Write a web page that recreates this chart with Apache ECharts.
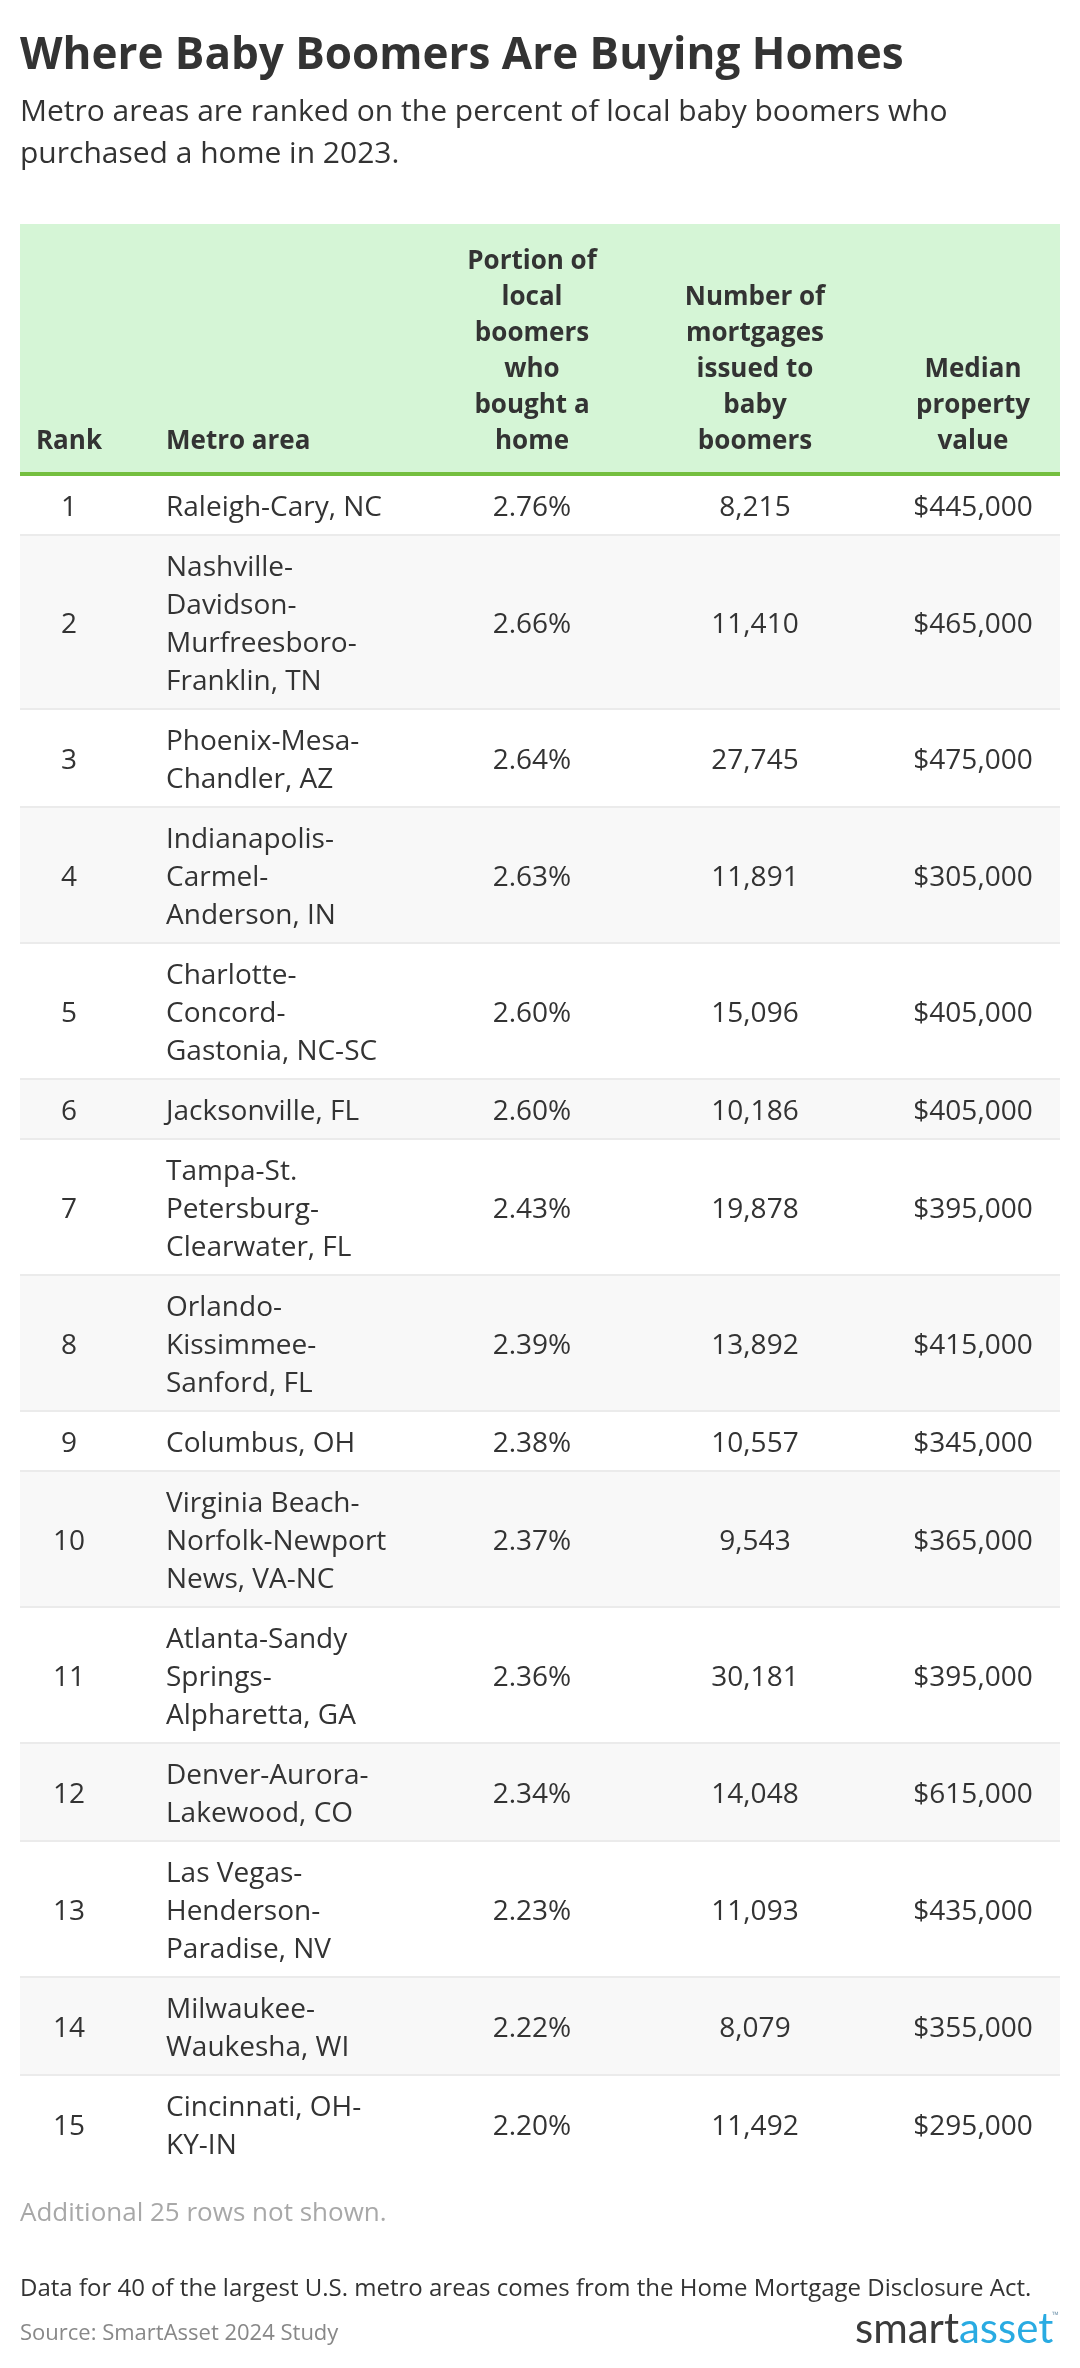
<!DOCTYPE html>
<html>
<head>
<meta charset="utf-8">
<style>
  html, body { margin: 0; padding: 0; background: #fff; }
  #chart { width: 1080px; height: 2368px; }
</style>
<script src="https://cdn.jsdelivr.net/npm/echarts@6/dist/echarts.min.js"></script>
</head>
<body>
<div id="chart"></div>
<script>
const headers = ['Rank', 'Metro area', 'Portion of\nlocal\nboomers\nwho\nbought a\nhome', 'Number of\nmortgages\nissued to\nbaby\nboomers', 'Median\nproperty\nvalue']
const ranks = [1, 2, 3, 4, 5, 6, 7, 8, 9, 10, 11, 12, 13, 14, 15]
const metros = [
  'Raleigh-Cary, NC',
  'Nashville-\nDavidson-\nMurfreesboro-\nFranklin, TN',
  'Phoenix-Mesa-\nChandler, AZ',
  'Indianapolis-\nCarmel-\nAnderson, IN',
  'Charlotte-\nConcord-\nGastonia, NC-SC',
  'Jacksonville, FL',
  'Tampa-St.\nPetersburg-\nClearwater, FL',
  'Orlando-\nKissimmee-\nSanford, FL',
  'Columbus, OH',
  'Virginia Beach-\nNorfolk-Newport\nNews, VA-NC',
  'Atlanta-Sandy\nSprings-\nAlpharetta, GA',
  'Denver-Aurora-\nLakewood, CO',
  'Las Vegas-\nHenderson-\nParadise, NV',
  'Milwaukee-\nWaukesha, WI',
  'Cincinnati, OH-\nKY-IN',
]
const portions = [2.76, 2.66, 2.64, 2.63, 2.6, 2.6, 2.43, 2.39, 2.38, 2.37, 2.36, 2.34, 2.23, 2.22, 2.2]
const mortgages = [8215, 11410, 27745, 11891, 15096, 10186, 19878, 13892, 10557, 9543, 30181, 14048, 11093, 8079, 11492]
const propertyValues = [445000, 465000, 475000, 305000, 405000, 405000, 395000, 415000, 345000, 365000, 395000, 615000, 435000, 355000, 295000]

const FONT = '"Open Sans", sans-serif'
const TEXT = '#333333'
const TABLE_LEFT = 20
const TABLE_RIGHT = 1060
const HEAD_TOP = 224
const HEAD_BOTTOM = 472
const RULE = 4
const LINE = 38
const HEAD_LINE = 36
const PAD = 22
// column anchors: rank, metro, portion, mortgages, value
const colX = [69, 166, 532, 755, 973]
const colAlign = ['center', 'left', 'center', 'center', 'center']

const fmt = (n) => n.toLocaleString('en-US')

// row tops follow from how many lines the metro name wraps to
const rowTops = []
let nextTop = HEAD_BOTTOM + RULE
metros.forEach((m) => {
  rowTops.push(nextTop)
  nextTop += PAD + LINE * m.split('\n').length
})

const cell = (x, y, text, align, font, lineHeight) => ({
  type: 'text',
  silent: true,
  style: { x, y, text, font, lineHeight, fill: TEXT, align, verticalAlign: 'middle' },
})

function renderRow(params) {
  const i = params.dataIndex
  const y = rowTops[i]
  const h = PAD + LINE * metros[i].split('\n').length
  const mid = y + (h - 2) / 2 + 3
  const children = []
  if (i % 2 === 1) {
    children.push({
      type: 'rect',
      shape: { x: TABLE_LEFT, y, width: TABLE_RIGHT - TABLE_LEFT, height: h },
      style: { fill: '#f8f8f8' },
    })
  }
  if (i < ranks.length - 1) {
    children.push({
      type: 'rect',
      shape: { x: TABLE_LEFT, y: y + h - 2, width: TABLE_RIGHT - TABLE_LEFT, height: 2 },
      style: { fill: '#ebebeb' },
    })
  }
  const values = [String(ranks[i]), metros[i], portions[i].toFixed(2) + '%', fmt(mortgages[i]), '$' + fmt(propertyValues[i])]
  values.forEach((v, c) => children.push(cell(colX[c], mid, v, colAlign[c], `400 28px ${FONT}`, LINE)))
  return { type: 'group', children }
}

function renderHeader() {
  const children = [
    { type: 'rect', shape: { x: TABLE_LEFT, y: HEAD_TOP, width: TABLE_RIGHT - TABLE_LEFT, height: HEAD_BOTTOM - HEAD_TOP }, style: { fill: '#d5f5d6' } },
    { type: 'rect', shape: { x: TABLE_LEFT, y: HEAD_BOTTOM, width: TABLE_RIGHT - TABLE_LEFT, height: RULE }, style: { fill: '#74bf3f' } },
  ]
  headers.forEach((h, c) => {
    const el = cell(colX[c], 460, h, colAlign[c], `700 26px ${FONT}`, HEAD_LINE)
    el.style.verticalAlign = 'bottom'
    children.push(el)
  })
  return { type: 'group', children }
}

const note = (x, y, text, size, fill, weight) => ({
  type: 'text',
  silent: true,
  style: { x, y, text, fill, font: `${weight || 400} ${size}px ${FONT}`, verticalAlign: 'middle' },
})

const chart = echarts.init(document.getElementById('chart'), null, { renderer: 'canvas', devicePixelRatio: 1 })
chart.setOption({
  animation: false,
  backgroundColor: '#ffffff',
  series: [
    { type: 'custom', coordinateSystem: 'none', data: [0], renderItem: renderHeader, silent: true },
    { type: 'custom', coordinateSystem: 'none', data: ranks, renderItem: renderRow, silent: true },
  ],
  graphic: [
    note(20, 56, 'Where Baby Boomers Are Buying Homes', 44, TEXT, 700),
    note(20, 112, 'Metro areas are ranked on the percent of local baby boomers who', 30, TEXT),
    note(20, 154, 'purchased a home in 2023.', 30, TEXT),
    note(20, 2214, 'Additional 25 rows not shown.', 26, '#a8a8a8'),
    note(20, 2289, 'Data for 40 of the largest U.S. metro areas comes from the Home Mortgage Disclosure Act.', 24, TEXT),
    note(20, 2334, 'Source: SmartAsset 2024 Study', 22, '#888888'),
    {
      type: 'text',
      silent: true,
      style: {
        x: 855, y: 2329,
        text: '{a|smart}{b|asset}',
        verticalAlign: 'middle',
        rich: {
          a: { font: `400 42px Lato, ${FONT}`, fill: '#3a3a3a' },
          b: { font: `400 42px Lato, ${FONT}`, fill: '#29abe2' },
        },
      },
    },
    note(1052, 2315, '™', 9, '#7f9fb5', 700),
  ],
})
</script>
</body>
</html>
